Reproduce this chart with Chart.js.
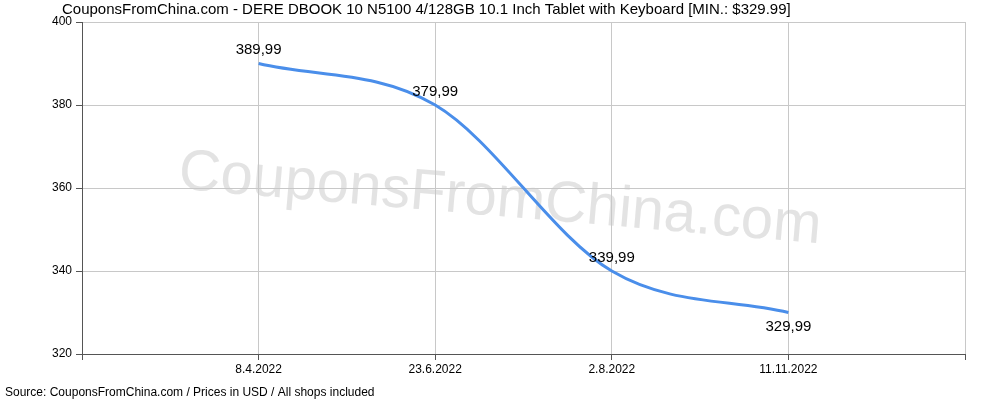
<!DOCTYPE html>
<html>
<head>
<meta charset="utf-8">
<script src="https://cdn.jsdelivr.net/npm/chart.js@4.4.2/dist/chart.umd.min.js"></script>
<style>
  html, body { margin: 0; padding: 0; background: #fff; }
  #wrap { width: 1000px; height: 400px; }
</style>
</head>
<body>
<div id="wrap"><canvas id="chart" width="1000" height="400"></canvas></div>
<script>
const dates = ['', '8.4.2022', '23.6.2022', '2.8.2022', '11.11.2022', ''];
const prices = [null, 389.99, 379.99, 339.99, 329.99, null];
const priceLabels = ['', '389,99', '379,99', '339,99', '329,99', ''];
const labelBelow = [false, false, false, false, true, false];
const yTicks = [320, 340, 360, 380, 400];

const FONT = '"Liberation Sans", Arial, sans-serif';

const extras = {
  id: 'extras',
  beforeDatasetsDraw(chart) {
    const c = chart.ctx;
    c.save();
    c.translate(500, 200);
    c.rotate(0.085);
    c.font = '58px ' + FONT;
    c.fillStyle = 'rgba(200,200,200,0.5)';
    c.textAlign = 'center';
    c.textBaseline = 'middle';
    c.fillText('CouponsFromChina.com', 0, 0);
    c.restore();
  },
  afterDatasetsDraw(chart) {
    const c = chart.ctx;
    const meta = chart.getDatasetMeta(0);
    c.save();
    c.font = '15px ' + FONT;
    c.fillStyle = '#000';
    c.textAlign = 'center';
    meta.data.forEach((p, i) => {
      if (prices[i] == null) return;
      c.textBaseline = labelBelow[i] ? 'top' : 'bottom';
      c.fillText(priceLabels[i], p.x, labelBelow[i] ? p.y + 7 : p.y - 6);
    });
    c.textAlign = 'left';
    c.textBaseline = 'top';
    c.fillText('CouponsFromChina.com - DERE DBOOK 10 N5100 4/128GB 10.1 Inch Tablet with Keyboard [MIN.: $329.99]', 62, 2);
    c.font = '12px ' + FONT;
    c.fillText('Source: CouponsFromChina.com / Prices in USD / All shops included', 5, 387);
    c.restore();
  }
};

new Chart(document.getElementById('chart'), {
  type: 'line',
  data: {
    labels: dates,
    datasets: [{
      data: prices,
      borderColor: '#4a8eea',
      borderWidth: 3,
      pointRadius: 0,
      fill: false,
      cubicInterpolationMode: 'monotone',
      spanGaps: false
    }]
  },
  options: {
    responsive: false,
    animation: false,
    devicePixelRatio: 1,
    layout: { padding: { top: 22, right: 35, left: 0, bottom: 0 } },
    plugins: { legend: { display: false }, tooltip: { enabled: false } },
    scales: {
      x: {
        offset: false,
        grid: { color: '#c8c8c8', tickLength: 6, tickColor: '#555' },
        border: { color: '#555' },
        ticks: { color: '#000', font: { family: FONT, size: 12 }, maxRotation: 0, autoSkip: false, padding: 2 },
        afterFit(s) { s.height = 46; }
      },
      y: {
        min: 320, max: 400,
        grid: { color: '#c8c8c8', tickLength: 6, tickColor: '#555' },
        border: { color: '#555' },
        afterBuildTicks(s) { s.ticks = yTicks.map(v => ({ value: v })); },
        ticks: { color: '#000', font: { family: FONT, size: 12 }, padding: 4 },
        afterFit(s) { s.width = 82; }
      }
    }
  },
  plugins: [extras]
});
</script>
</body>
</html>
